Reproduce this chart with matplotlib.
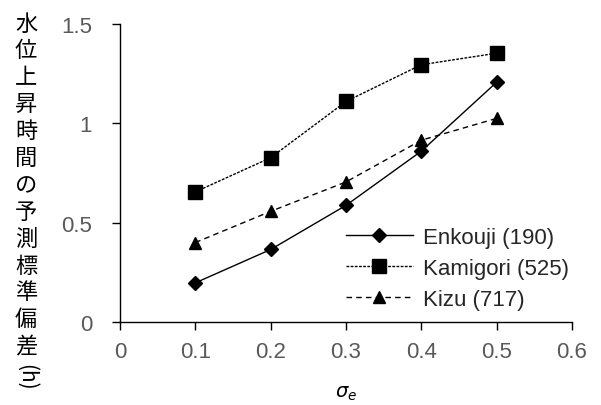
import matplotlib
matplotlib.use("Agg")
import matplotlib.pyplot as plt

# predicted std. dev. of water-level rise time vs sigma_e
sigma_e = [0.1, 0.2, 0.3, 0.4, 0.5]
enkouji = [0.197, 0.365, 0.587, 0.86, 1.207]
kamigori = [0.655, 0.827, 1.11, 1.295, 1.353]
kizu = [0.40, 0.557, 0.705, 0.915, 1.025]

labels = ["Enkouji (190)", "Kamigori (525)", "Kizu (717)"]
xticks = [0, 0.1, 0.2, 0.3, 0.4, 0.5, 0.6]
yticks = [0, 0.5, 1, 1.5]
ylabel_chars = "水位上昇時間の予測標準偏差"

plt.rcParams["font.family"] = ["Liberation Sans", "DejaVu Sans"]

W, H = 601, 406
fig = plt.figure(figsize=(W / 100, H / 100), dpi=100)
ax = fig.add_axes([120 / W, 1 - 323 / H, (572 - 120) / W, (323 - 25) / H])

ax.plot(sigma_e, enkouji, color="black", lw=1.0, ls="-",
        marker="D", ms=7, label=labels[0])
ax.plot(sigma_e, kamigori, color="black", lw=1.0, ls=(0, (2, 1)),
        marker="s", ms=10, label=labels[1])
ax.plot(sigma_e, kizu, color="black", lw=1.0, ls=(0, (4, 3)),
        marker="^", ms=9, label=labels[2])

ax.set_xlim(0, 0.6)
ax.set_ylim(0, 1.5)
ax.set_xticks(xticks)
ax.set_xticklabels([f"{v:g}" for v in xticks])
ax.set_yticks(yticks)
ax.set_yticklabels([f"{v:g}" for v in yticks])
ax.tick_params(direction="out", length=6, width=1, colors="black",
               labelcolor="#595959", labelsize=16)
ax.tick_params(axis="x", pad=8)
ax.tick_params(axis="y", pad=14)
for s in ("top", "right"):
    ax.spines[s].set_visible(False)
for s in ("left", "bottom"):
    ax.spines[s].set_linewidth(1.0)

# x-axis label placed directly so the subscript stays inside the canvas
fig.text(346 / W, 1 - 394 / H, r"$\sigma_e$", ha="center", va="center",
         fontsize=14)

leg = fig.legend(loc="lower left", bbox_to_anchor=(346 / W, 1 - 311 / H),
                 frameon=False, fontsize=16, handlelength=3.0,
                 handletextpad=0.45, labelspacing=0.45, borderpad=0,
                 borderaxespad=0)
for t in leg.get_texts():
    t.set_color("#262626")

# vertical Japanese y-label, one character per line
x0 = 26 / W
for i, ch in enumerate(ylabel_chars):
    yc = 1 - (24 + 26.9 * i) / H
    fig.text(x0, yc, ch, ha="center", va="center", fontsize=16,
             family=["Noto Sans CJK JP", "DejaVu Sans"])
fig.text(x0, 1 - 377 / H, "(h)", ha="center", va="center", fontsize=15,
         rotation=270, family=["Noto Sans CJK JP", "DejaVu Sans"])

fig.savefig("out.png", dpi=100)
